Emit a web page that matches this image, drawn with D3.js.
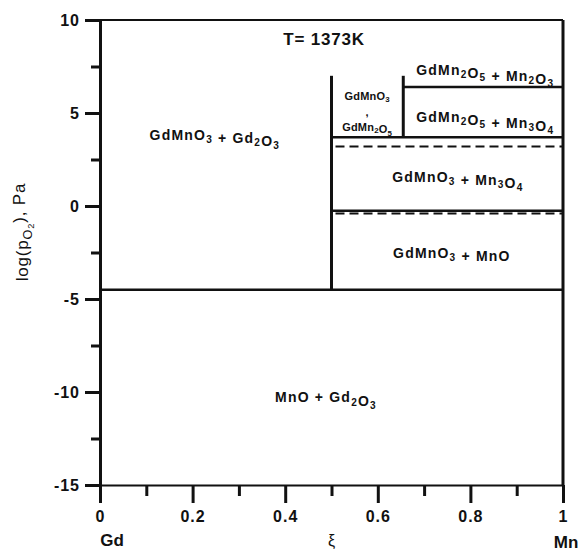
<!DOCTYPE html>
<html>
<head>
<meta charset="utf-8">
<script src="https://cdn.jsdelivr.net/npm/d3@7/dist/d3.min.js"></script>
<style>
	body { margin: 0; background: #fff; }
	text { font-family: "Liberation Sans", Arial, sans-serif; fill: #111; }
</style>
</head>
<body>
<div id="chart"></div>
<script>
const margin = { top: 20, right: 17, bottom: 70, left: 100 };
const width = 580, height = 555;

const xTicks = [0, 0.2, 0.4, 0.6, 0.8, 1];
const xMinor = [0.1, 0.3, 0.5, 0.7, 0.9];
const yTicks = [10, 5, 0, -5, -10, -15];
const yMinor = [7.5, 2.5, -2.5, -7.5, -12.5];

// phase boundaries: [x1, y1, x2, y2]
const solidLines = [
	[0, -4.5, 1, -4.5],
	[0.5, -4.5, 0.5, 7.0],
	[0.655, 3.7, 0.655, 7.0],
	[0.655, 6.4, 1, 6.4],
	[0.5, 3.7, 1, 3.7],
	[0.5, -0.25, 1, -0.25]
];
const dashedLines = [
	[0.5, 3.2, 1, 3.2],
	[0.5, -0.4, 1, -0.4]
];

// phase labels: text with _ marking subscripts, x, y, size
const phaseLabels = [
	["GdMnO_3 + Gd_2O_3", 0.248, 3.82, 14],
	["GdMn_2O_5 + Mn_2O_3", 0.832, 7.31, 14],
	["GdMn_2O_5 + Mn_3O_4", 0.832, 4.78, 14],
	["GdMnO_3", 0.577, 5.9, 11],
	[",", 0.577, 5.05, 11],
	["GdMn_2O_5", 0.577, 4.25, 11],
	["GdMnO_3 + Mn_3O_4", 0.773, 1.56, 14],
	["GdMnO_3 + MnO", 0.76, -2.53, 14],
	["MnO + Gd_2O_3", 0.488, -10.3, 14]
];

const x = d3.scaleLinear().domain([0, 1]).range([margin.left, width - margin.right]);
const y = d3.scaleLinear().domain([-15, 10]).range([height - margin.bottom, margin.top]);

const svg = d3.select('#chart').append('svg')
	.attr('width', width)
	.attr('height', height);

// put text with subscripts into a text element
function subText(sel, str) {
	const parts = str.split(/(_\d)/).filter(p => p.length);
	parts.forEach(p => {
		if (p[0] === '_') {
			sel.append('tspan').attr('dy', '0.3em').attr('font-size', '0.72em').text(p.slice(1));
			sel.append('tspan').attr('dy', '-0.22em').text('');
		} else {
			sel.append('tspan').text(p);
		}
	});
}

// frame top and right
svg.append('line')
	.attr('x1', x(0)).attr('x2', x(1))
	.attr('y1', y(10)).attr('y2', y(10))
	.attr('stroke', '#111').attr('stroke-width', 2);
svg.append('line')
	.attr('x1', x(1)).attr('x2', x(1))
	.attr('y1', y(10)).attr('y2', y(-15))
	.attr('stroke', '#111').attr('stroke-width', 3);

// axes
const xAxis = svg.append('g')
	.attr('transform', `translate(0, ${y(-15)})`)
	.call(d3.axisBottom(x).tickValues(xTicks).tickSize(18).tickSizeOuter(0).tickPadding(8)
		.tickFormat(d => d === 0 || d === 1 ? d : d3.format('.1f')(d)));
svg.append('g')
	.attr('transform', `translate(0, ${y(-15)})`)
	.call(d3.axisBottom(x).tickValues(xMinor).tickSize(11).tickFormat(''))
	.select('.domain').remove();

const yAxis = svg.append('g')
	.attr('transform', `translate(${x(0)}, 0)`)
	.call(d3.axisLeft(y).tickValues(yTicks).tickSize(15).tickSizeOuter(0).tickPadding(5)
		.tickFormat(d => String(d)));
svg.append('g')
	.attr('transform', `translate(${x(0)}, 0)`)
	.call(d3.axisLeft(y).tickValues(yMinor).tickSize(9).tickFormat(''))
	.select('.domain').remove();

svg.selectAll('.domain').attr('stroke', '#111');
xAxis.select('.domain').attr('stroke-width', 2);
yAxis.select('.domain').attr('stroke-width', 3);
svg.selectAll('.tick line').attr('stroke', '#111').attr('stroke-width', 3);
svg.selectAll('.tick text')
	.attr('font-size', 16)
	.attr('font-weight', 'bold')
	.attr('letter-spacing', 1)
	.attr('fill', '#111');

// phase boundaries
svg.append('g').selectAll('line')
	.data(solidLines)
	.enter()
	.append('line')
		.attr('x1', d => x(d[0])).attr('y1', d => y(d[1]))
		.attr('x2', d => x(d[2])).attr('y2', d => y(d[3]))
		.attr('stroke', '#111')
		.attr('stroke-width', d => d[0] === d[2] ? 3 : 2.5);

svg.append('g').selectAll('line')
	.data(dashedLines)
	.enter()
	.append('line')
		.attr('x1', d => x(d[0]) + 4).attr('y1', d => y(d[1]))
		.attr('x2', d => x(d[2])).attr('y2', d => y(d[3]))
		.attr('stroke', '#111')
		.attr('stroke-width', 2)
		.attr('stroke-dasharray', '9,5');

// phase labels
svg.append('g').selectAll('text')
	.data(phaseLabels)
	.enter()
	.append('text')
		.attr('x', d => x(d[1]))
		.attr('y', d => y(d[2]))
		.attr('dy', '0.35em')
		.attr('text-anchor', 'middle')
		.attr('font-size', d => d[3])
		.attr('font-weight', 'bold')
		.attr('letter-spacing', d => d[3] > 12 ? 1.2 : 0.2)
		.each(function(d) { subText(d3.select(this), d[0]); });

svg.append('text')
	.attr('x', x(0.484))
	.attr('y', y(8.98))
	.attr('dy', '0.35em')
	.attr('text-anchor', 'middle')
	.attr('font-size', 17)
	.attr('font-weight', 'bold')
	.attr('letter-spacing', 0.8)
	.text('T= 1373K');

// axis titles
const xTitleY = 540;
svg.append('text').attr('x', x(0) + 12).attr('y', xTitleY).attr('dy', '0.35em')
	.attr('text-anchor', 'middle').attr('font-size', 17).attr('font-weight', 'bold').text('Gd');
svg.append('text').attr('x', x(0.5)).attr('y', xTitleY).attr('dy', '0.35em')
	.attr('text-anchor', 'middle').attr('font-size', 16).text('ξ');
svg.append('text').attr('x', x(1) + 3).attr('y', xTitleY + 2).attr('dy', '0.35em')
	.attr('text-anchor', 'middle').attr('font-size', 17).attr('font-weight', 'bold').text('Mn');

const yTitle = svg.append('text')
	.attr('transform', `translate(22, 232) rotate(-90)`)
	.attr('dy', '0.35em')
	.attr('text-anchor', 'middle')
	.attr('font-size', 17)
	.attr('letter-spacing', 0.8);
yTitle.append('tspan').text('log(p');
yTitle.append('tspan').attr('dy', '0.3em').attr('font-size', '0.75em').text('O');
yTitle.append('tspan').attr('dy', '0.2em').attr('font-size', '0.55em').text('2');
yTitle.append('tspan').attr('dy', '-0.5em').text('), Pa');
</script>
</body>
</html>
